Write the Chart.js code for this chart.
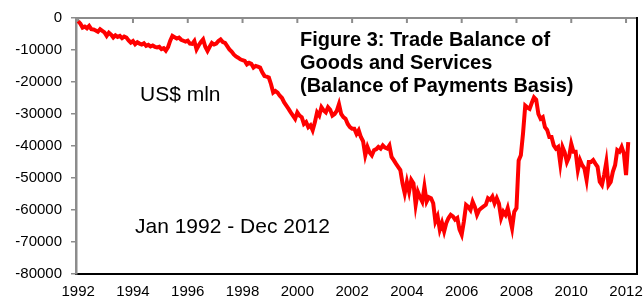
<!DOCTYPE html>
<html>
<head>
<meta charset="utf-8">
<script src="https://cdn.jsdelivr.net/npm/chart.js@4.4.1/dist/chart.umd.min.js"></script>
<style>
    body { margin: 0; background: #fff; }
    #wrap { position: relative; width: 644px; height: 299px; font-family: 'Liberation Sans', Arial, sans-serif; color: #000; }
    #chart { position: absolute; left: 0; top: 0; }
    .note { position: absolute; white-space: nowrap; }
    #title { left: 300px; top: 28px; font-size: 20px; font-weight: bold; line-height: 23px; }
    #unit { left: 140px; top: 83px; font-size: 21px; line-height: 21px; }
    #period { left: 135px; top: 215px; font-size: 21px; line-height: 21px; }
</style>
</head>
<body>
<div id="wrap">
    <canvas id="chart" width="644" height="299"></canvas>
    <div class="note" id="title">Figure 3: Trade Balance of<br>Goods and Services<br>(Balance of Payments Basis)</div>
    <div class="note" id="unit">US$ mln</div>
    <div class="note" id="period">Jan 1992 - Dec 2012</div>
</div>
<script>
// Monthly trade balance, US$ mln, Jan 1992 - Dec 2012
const balance = [
    // 1992
    -1000, -1800, -3000, -2700, -3200, -2500, -3500, -3600, -3900, -4300, -3500, -4000,
    // 1993
    -4500, -5600, -4600, -5200, -6100, -5400, -5900, -5600, -6300, -5800, -6100, -7000,
    // 1994
    -7700, -7200, -8200, -7600, -8000, -8300, -7900, -8700, -8400, -8900, -8600, -9000,
    // 1995
    -9200, -9000, -9700, -9400, -10200, -9100, -7100, -5600, -6000, -6400, -6100, -6800,
    // 1996
    -7100, -7400, -7100, -8000, -8100, -7200, -9800, -8500, -7500, -6700, -9000, -10300,
    // 1997
    -9000, -7800, -8300, -8000, -7200, -6700, -7500, -7800, -8800, -9800, -10500, -11400,
    // 1998
    -12000, -12400, -12900, -13200, -13400, -14500, -14000, -14300, -15500, -15000, -15200, -15500,
    // 1999
    -17000, -18100, -18300, -18600, -20700, -23300, -22800, -23300, -24300, -25000, -26400, -27400,
    // 2000
    -28400, -29500, -30500, -31500, -29500, -30500, -31000, -33100, -32500, -34100, -33500, -35100,
    // 2001
    -32600, -29500, -30500, -27900, -28900, -29500, -27900, -28700, -30500, -30000, -29000, -26900,
    // 2002
    -30000, -31000, -31500, -33100, -34100, -34600, -34600, -36200, -35100, -37200, -38500, -42900,
    // 2003
    -40300, -42000, -42900, -41300, -41000, -40300, -40800, -39800, -40500, -40800, -39800, -43400,
    // 2004
    -44400, -45500, -46500, -47500, -51700, -54800, -51200, -54300, -50600, -51700, -58400, -54300,
    // 2005
    -56000, -57400, -52700, -57400, -56000, -56300, -57900, -63600, -62000, -66100, -64000, -66700,
    // 2006
    -64000, -62500, -61500, -62000, -63000, -62500, -66100, -67700, -63600, -58400, -59000, -60000,
    // 2007
    -57400, -59000, -61500, -60000, -59400, -58900, -58400, -56300, -56800, -55800, -57900, -56300,
    // 2008
    -58000, -62500, -60500, -61500, -59400, -62500, -65700, -60500, -59400, -44500, -42900, -36000,
    // 2009
    -27400, -28000, -28400, -26500, -24800, -25500, -30000, -31500, -31000, -34100, -35000, -37200,
    // 2010
    -37200, -39800, -40800, -40300, -45500, -40300, -42000, -45000, -43400, -39300, -41800, -41800,
    // 2011
    -47500, -44400, -46000, -47000, -50600, -45000, -45000, -44400, -45500, -46500, -51200, -52200,
    // 2012
    -49000, -45000, -52200, -51200, -48000, -46000, -41300, -41800, -40300, -42300, -49100, -38800
];

// Year labels along the bottom; the original puts one every 25 months
const tickLabels = ['1992', '1994', '1996', '1998', '2000', '2002', '2004', '2006', '2008', '2010', '2012'];
const tickStep = 25;

Chart.defaults.font.family = "'Liberation Sans', Arial, sans-serif";
Chart.defaults.color = '#000';

// grey zero line across the top with small ticks, black frame on the right
const framePlugin = {
    id: 'frame',
    beforeDatasetsDraw(chart) {
        const { ctx, chartArea: a, scales: { x } } = chart;
        ctx.save();
        ctx.strokeStyle = '#8c8c8c';
        ctx.lineWidth = 2;
        ctx.beginPath();
        ctx.moveTo(a.left, a.top);
        ctx.lineTo(a.right, a.top);
        x.ticks.forEach(t => {
            const px = x.getPixelForValue(t.value);
            ctx.moveTo(px, a.top);
            ctx.lineTo(px, a.top + 5);
        });
        ctx.stroke();
        ctx.strokeStyle = '#000';
        ctx.beginPath();
        ctx.moveTo(a.right, a.top - 1);
        ctx.lineTo(a.right, a.bottom);
        ctx.stroke();
        ctx.restore();
    }
};

const ctx = document.getElementById('chart').getContext('2d');
new Chart(ctx, {
    type: 'line',
    data: {
        datasets: [{
            data: balance.map((v, i) => ({ x: i, y: v })),
            borderColor: '#ff0000',
            borderWidth: 4,
            pointRadius: 0,
            tension: 0,
            fill: false
        }]
    },
    options: {
        responsive: false,
        animation: false,
        layout: { padding: { top: 15, right: 7, left: 0, bottom: 0 } },
        plugins: { legend: { display: false }, tooltip: { enabled: false } },
        scales: {
            x: {
                type: 'linear',
                min: -1,
                max: 255,
                afterBuildTicks: scale => {
                    scale.ticks = tickLabels.map((t, i) => ({ value: i * tickStep }));
                },
                ticks: {
                    autoSkip: false,
                    maxRotation: 0,
                    padding: 1,
                    font: { size: 15 },
                    callback: v => tickLabels[Math.round(v / tickStep)]
                },
                grid: { display: false },
                border: { display: true, color: '#000', width: 2 },
                afterFit: scale => { scale.height = 25; }
            },
            y: {
                min: -80000,
                max: 0,
                ticks: { stepSize: 10000, padding: 9, font: { size: 15 }, callback: v => String(v) },
                grid: { drawOnChartArea: false, drawTicks: true, tickLength: 5, color: '#8c8c8c', lineWidth: 1.5 },
                border: { display: true, color: '#8c8c8c', width: 2.5 },
                afterFit: scale => { scale.width = 76; }
            }
        }
    },
    plugins: [framePlugin]
});
</script>
</body>
</html>
